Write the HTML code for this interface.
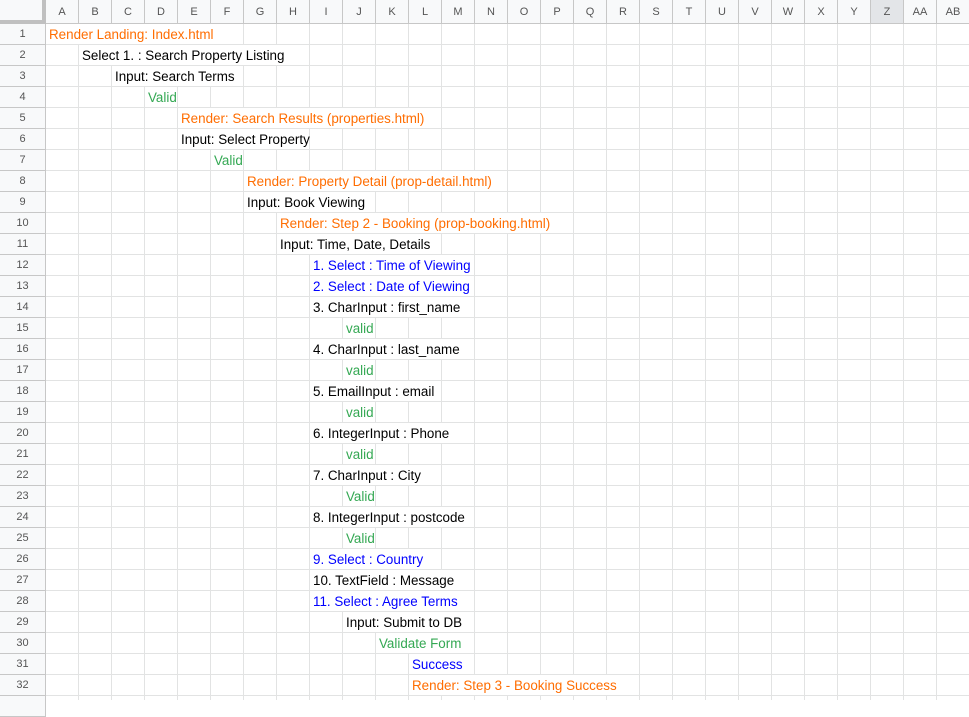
<!DOCTYPE html>
<html><head><meta charset="utf-8"><style>
*{margin:0;padding:0;box-sizing:border-box}
body{width:969px;height:700px;overflow:hidden;background:#fff;font-family:"Liberation Sans",Arial,sans-serif;position:relative}
#grid{position:absolute;left:46px;top:24px;width:923px;height:676px;
background-image:linear-gradient(to right,transparent 32px,#e2e3e3 32px),linear-gradient(to bottom,transparent 20px,#e2e3e3 20px);
background-size:33px 21px,33px 21px}
.ch{position:absolute;top:0;height:24px;width:33px;background:#f8f9fa;border-right:1px solid #c7c7c7;border-bottom:1px solid #c7c7c7;font-size:11px;color:#555;text-align:center;line-height:24px}
.rh{position:absolute;left:0;width:46px;height:21px;background:#f8f9fa;border-right:1px solid #c7c7c7;border-bottom:1px solid #c7c7c7;font-size:11px;color:#555;text-align:center;line-height:21px}
#corner{position:absolute;left:0;top:0;width:46px;height:24px;background:#f8f9fa;border-right:4px solid #c0c0c0;border-bottom:4px solid #c0c0c0}
.c{position:absolute;height:20px;background:#fff;font-size:13.4px;line-height:21px;padding-left:3px;white-space:nowrap}
.o{color:#ff6d01}.g{color:#34a853}.b{color:#0000ff}.k{color:#000}
</style></head><body>
<div id="grid"></div>
<div id="corner"></div>
<script>
var L="A B C D E F G H I J K L M N O P Q R S T U V W X Y Z AA AB".split(" ");
var h="";
for(var i=0;i<L.length;i++){h+='<div class="ch" style="left:'+(46+i*33)+'px'+(L[i]=="Z"?';background:#e3e5e8':'')+'">'+L[i]+'</div>';}
for(var r=1;r<=33;r++){h+='<div class="rh" style="top:'+(24+(r-1)*21)+'px">'+(r<=32?r:'')+'</div>';}
var d=[
[1,0,6,"o","Render Landing: Index.html"],
[2,1,7,"k","Select 1. : Search Property Listing"],
[3,2,4,"k","Input: Search Terms"],
[4,3,1,"g","Valid"],
[5,4,8,"o","Render: Search Results (properties.html)"],
[6,4,4,"k","Input: Select Property"],
[7,5,1,"g","Valid"],
[8,6,8,"o","Render: Property Detail (prop-detail.html)"],
[9,6,4,"k","Input: Book Viewing"],
[10,7,9,"o","Render: Step 2 - Booking (prop-booking.html)"],
[11,7,5,"k","Input: Time, Date, Details"],
[12,8,5,"b","1. Select : Time of Viewing"],
[13,8,5,"b","2. Select : Date of Viewing"],
[14,8,5,"k","3. CharInput : first_name"],
[15,9,1,"g","valid"],
[16,8,5,"k","4. CharInput : last_name"],
[17,9,1,"g","valid"],
[18,8,4,"k","5. EmailInput : email"],
[19,9,1,"g","valid"],
[20,8,5,"k","6. IntegerInput : Phone"],
[21,9,1,"g","valid"],
[22,8,4,"k","7. CharInput : City"],
[23,9,1,"g","Valid"],
[24,8,5,"k","8. IntegerInput : postcode"],
[25,9,1,"g","Valid"],
[26,8,4,"b","9. Select : Country"],
[27,8,5,"k","10. TextField : Message"],
[28,8,5,"b","11. Select : Agree Terms"],
[29,9,4,"k","Input: Submit to DB"],
[30,10,3,"g","Validate Form"],
[31,11,2,"b","Success"],
[32,11,7,"o","Render: Step 3 - Booking Success"]];
for(var j=0;j<d.length;j++){var e=d[j];
h+='<div class="c '+e[3]+'" style="top:'+(24+(e[0]-1)*21)+'px;left:'+(46+e[1]*33)+'px;width:'+(e[2]*33-1)+'px">'+e[4]+'</div>';}
document.body.insertAdjacentHTML("beforeend",h);
</script>
</body></html>
